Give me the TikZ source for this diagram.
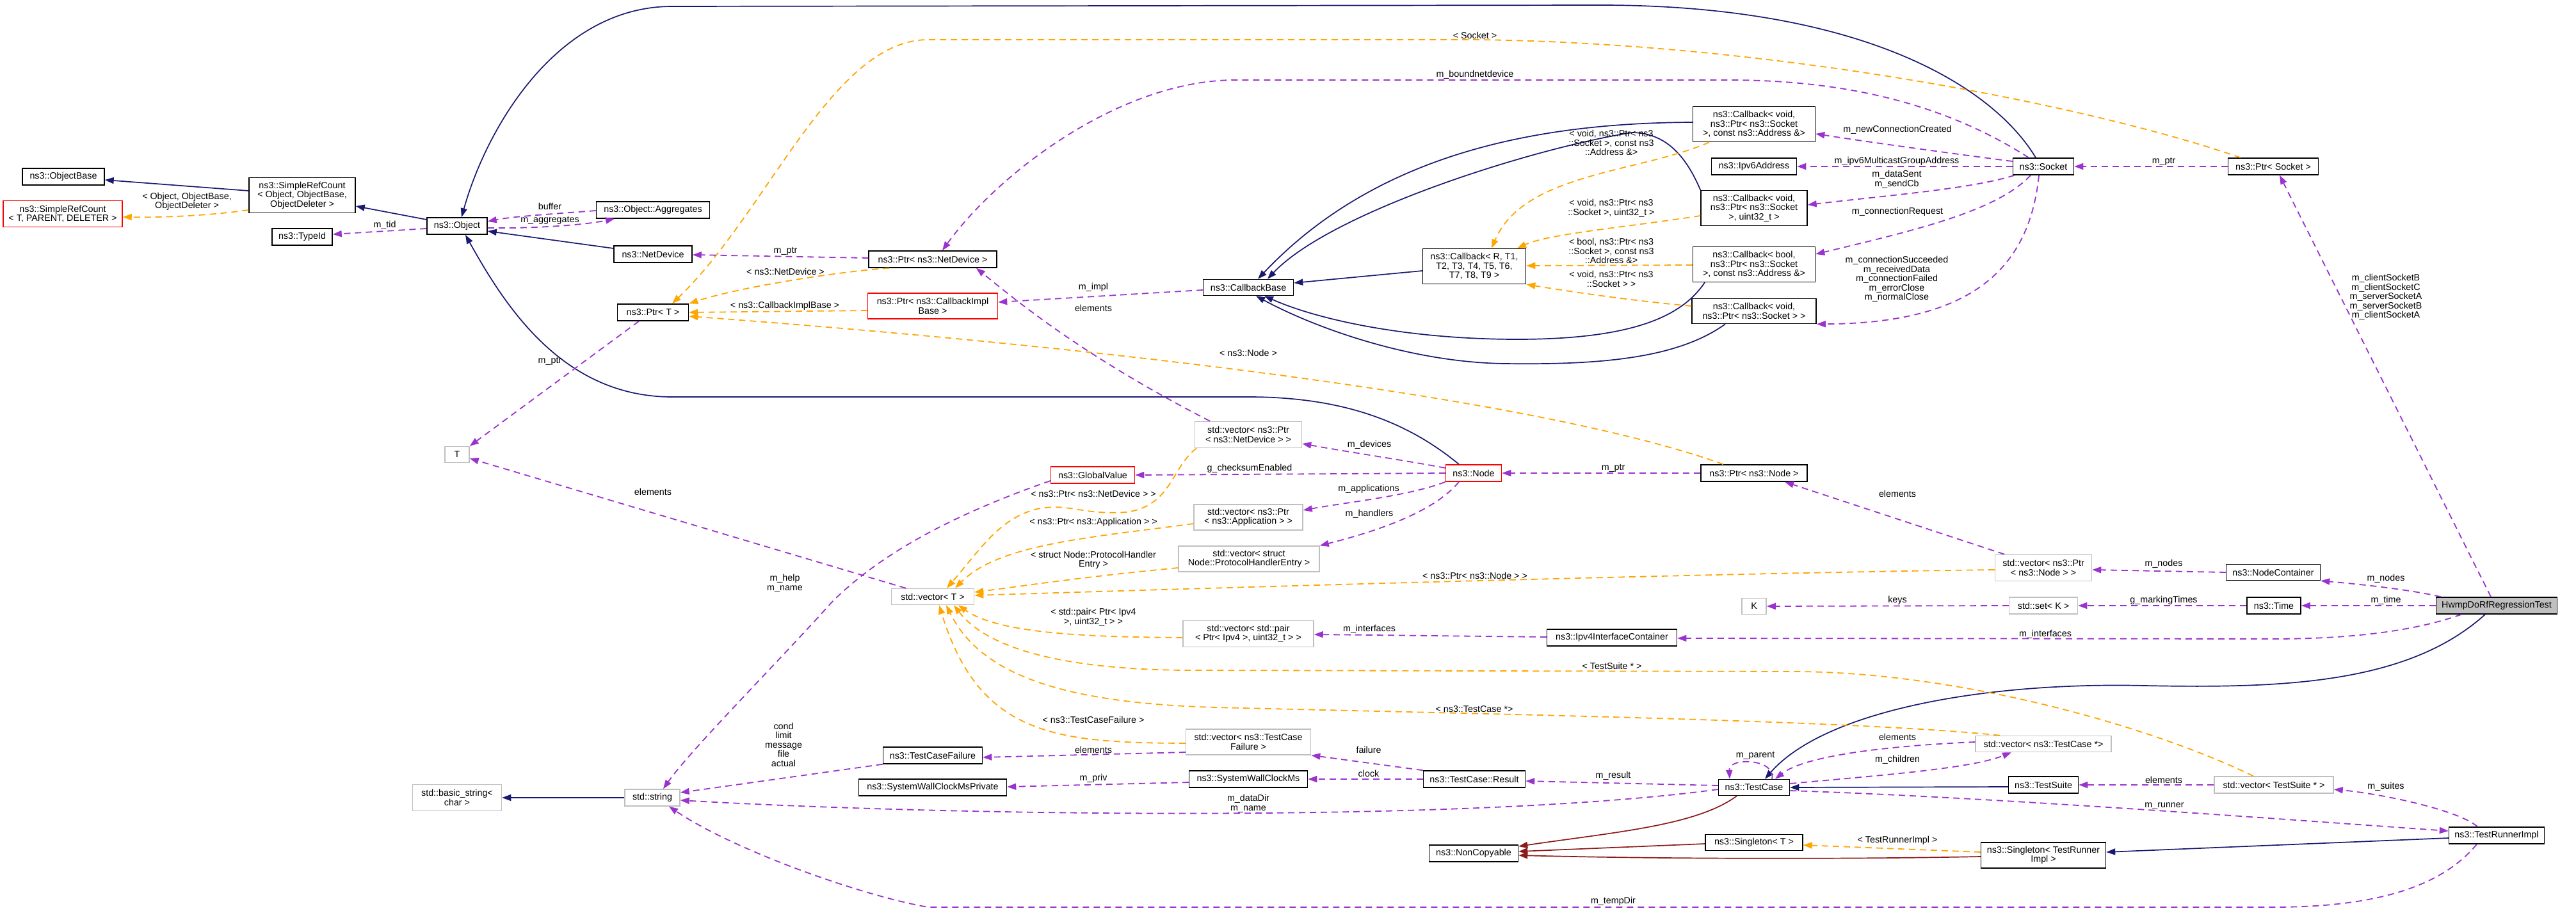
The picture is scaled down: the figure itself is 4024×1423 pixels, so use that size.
\documentclass[tikz,border=0pt]{standalone}
\usepackage{fontspec}
\setmainfont{Liberation Sans}
\usetikzlibrary{arrows.meta}
\definecolor{cuse}{HTML}{9A32CD}
\definecolor{ctpl}{HTML}{FFA500}
\definecolor{cinh}{HTML}{191970}
\definecolor{cpriv}{HTML}{8B1A1A}
\definecolor{cgray}{HTML}{BFBFBF}
\newcommand{\dfont}{\fontsize{14.3}{14.5}\selectfont}
\begin{document}
\begin{tikzpicture}[x=1pt,y=-1pt,
 box/.style={draw=black, line width=1.5pt, fill=white, inner sep=0pt, align=center, font=\dfont},
 gbox/.style={box, draw=cgray},
 rbox/.style={box, draw=red},
 sz/.style 2 args={minimum width=#1pt, minimum height=#2pt},
 lbl/.style={font=\dfont, inner sep=0pt, align=center, text=black},
 arr/.style={-{Triangle[length=14pt,width=10pt]}},
 euse/.style={arr, color=cuse, line width=1.8pt, dash pattern=on 10pt off 7pt},
 etpl/.style={arr, color=ctpl, line width=1.8pt, dash pattern=on 10pt off 7pt},
 einh/.style={arr, color=cinh, line width=1.7pt},
 epriv/.style={arr, color=cpriv, line width=1.7pt}]
\fill[white] (0,0) rectangle (4024,1423);
\useasboundingbox (0,0) rectangle (4024,1423);

% ---------- nodes ----------
\node[box, sz={128}{26}] (ob) at (99,276) {ns3::ObjectBase};
\node[rbox, sz={186}{41}] (srcT) at (98,334) {ns3::SimpleRefCount\\< T, PARENT, DELETER >};
\node[box, sz={166}{55}] (srcO) at (472,305) {ns3::SimpleRefCount\\< Object, ObjectBase,\\ObjectDeleter >};
\node[box, sz={94}{26}] (tid) at (472,370) {ns3::TypeId};
\node[box, sz={94}{26}] (obj) at (714,353) {ns3::Object};
\node[box, sz={177}{26}] (agg) at (1020,328) {ns3::Object::Aggregates};
\node[box, sz={122}{26}] (nd) at (1020,397) {ns3::NetDevice};
\node[box, sz={111}{26}] (ptrT) at (1020,488) {ns3::Ptr< T >};
\node[gbox, sz={38}{25}] (tT) at (714,710) {T};
\node[box, sz={200}{26}] (pnd) at (1457,405) {ns3::Ptr< ns3::NetDevice >};
\node[rbox, sz={203}{40}] (pcib) at (1457,478) {ns3::Ptr< ns3::CallbackImpl\\Base >};
\node[box, sz={141}{25}] (cbb) at (1950,449) {ns3::CallbackBase};
\node[box, sz={191}{55}] (cb1) at (2740,194) {ns3::Callback< void,\\ns3::Ptr< ns3::Socket\\>, const ns3::Address \&>};
\node[box, sz={133}{26}] (ipv6) at (2740,260) {ns3::Ipv6Address};
\node[box, sz={166}{55}] (cb2) at (2740,325) {ns3::Callback< void,\\ns3::Ptr< ns3::Socket\\>, uint32\_t >};
\node[box, sz={161}{55}] (cbR) at (2303,416) {ns3::Callback< R, T1,\\T2, T3, T4, T5, T6,\\T7, T8, T9 >};
\node[box, sz={191}{55}] (cb3) at (2740,413) {ns3::Callback< bool,\\ns3::Ptr< ns3::Socket\\>, const ns3::Address \&>};
\node[box, sz={194}{39}] (cb4) at (2740,486) {ns3::Callback< void,\\ns3::Ptr< ns3::Socket > >};
\node[box, sz={95}{26}] (sock) at (3192,260) {ns3::Socket};
\node[box, sz={141}{26}] (psock) at (3551,260) {ns3::Ptr< Socket >};
\node[gbox, sz={167}{41}] (vnd) at (1950,679) {std::vector< ns3::Ptr\\< ns3::NetDevice > >};
\node[rbox, sz={131}{26}] (gv) at (1707,742) {ns3::GlobalValue};
\node[gbox, sz={170}{40}] (vapp) at (1950,808) {std::vector< ns3::Ptr\\< ns3::Application > >};
\node[gbox, sz={220}{40}] (vphe) at (1951,873) {std::vector< struct\\Node::ProtocolHandlerEntry >};
\node[gbox, sz={129}{25}] (vT) at (1457,932) {std::vector< T >};
\node[rbox, sz={87}{26}] (nnode) at (2302,739) {ns3::Node};
\node[box, sz={166}{26}] (pnode) at (2740,739) {ns3::Ptr< ns3::Node >};
\node[gbox, sz={38}{25}] (K) at (2740,947) {K};
\node[gbox, sz={151}{41}] (vpn) at (3192,887) {std::vector< ns3::Ptr\\< ns3::Node > >};
\node[box, sz={147}{25}] (nc) at (3551,894) {ns3::NodeContainer};
\node[gbox, sz={107}{26}] (setK) at (3192,946) {std::set< K >};
\node[box, sz={84}{26}] (time) at (3552,946) {ns3::Time};
\node[box, fill=cgray, sz={189}{26}] (hw) at (3900,946) {HwmpDoRfRegressionTest};
\node[gbox, sz={139}{41}] (bstr) at (714,1246) {std::basic\_string<\\char >};
\node[gbox, sz={86}{26}] (str) at (1019,1246) {std::string};
\node[gbox, sz={204}{41}] (vpair) at (1950,990) {std::vector< std::pair\\< Ptr< Ipv4 >, uint32\_t > >};
\node[gbox, sz={195}{40}] (vtcf) at (1950,1159) {std::vector< ns3::TestCase\\Failure >};
\node[box, sz={155}{26}] (tcf) at (1457,1180) {ns3::TestCaseFailure};
\node[box, sz={231}{26}] (swp) at (1457,1230) {ns3::SystemWallClockMsPrivate};
\node[box, sz={185}{26}] (swc) at (1950,1217) {ns3::SystemWallClockMs};
\node[box, sz={203}{26}] (ipc) at (2518,996) {ns3::Ipv4InterfaceContainer};
\node[box, sz={159}{26}] (res) at (2303,1217) {ns3::TestCase::Result};
\node[box, sz={111}{25}] (tc) at (2740,1230) {ns3::TestCase};
\node[box, sz={139}{26}] (noncp) at (2302,1333) {ns3::NonCopyable};
\node[box, sz={152}{25}] (sgT) at (2740,1316) {ns3::Singleton< T >};
\node[gbox, sz={212}{25}] (vtc) at (3192,1162) {std::vector< ns3::TestCase *>};
\node[box, sz={109}{26}] (ts) at (3192,1226) {ns3::TestSuite};
\node[gbox, sz={186}{26}] (vts) at (3552,1226) {std::vector< TestSuite * >};
\node[box, sz={149}{26}] (tri) at (3900,1305) {ns3::TestRunnerImpl};
\node[box, sz={195}{40}] (sgTRI) at (3192,1336) {ns3::Singleton< TestRunner\\Impl >};

% ---------- inheritance ----------
\draw[einh] ([yshift=7pt]srcO.west) -- ([yshift=-5pt]ob.east);
\draw[einh] ([yshift=10pt]obj.west) -- ([yshift=-17pt]srcO.east);
\draw[einh] ([yshift=9pt]nd.west) -- ([yshift=-8pt]obj.east);
\draw[einh] ([xshift=-12pt]sock.north) .. controls (3110,130) and (2900,8) .. (2500,8) -- (1050,10) .. controls (870,10) and (760,200) .. ([xshift=7pt]obj.north);
\draw[einh] ([xshift=-23pt]nnode.north) .. controls (2200,660) and (2100,620) .. (1950,620) -- (1050,620) .. controls (880,620) and (790,480) .. ([xshift=13pt]obj.south);
\draw[einh] ([yshift=-7pt]cbR.west) -- ([yshift=7pt]cbb.east);
\draw[einh] ([yshift=3pt]cb1.west) .. controls (2400,192) and (2150,240) .. ([xshift=15pt]cbb.north);
\draw[einh] (cb2.north west) .. controls (2632,240) and (2600,208) .. (2550,207) .. controls (2400,230) and (2080,330) .. ([xshift=30pt]cbb.north);
\draw[einh] ([xshift=-77pt]cb3.south) .. controls (2630,490) and (2560,530) .. (2370,530) .. controls (2200,530) and (2060,500) .. ([xshift=25pt]cbb.south);
\draw[einh] ([xshift=-45pt]cb4.south) .. controls (2620,560) and (2500,570) .. (2351,568) .. controls (2200,566) and (2050,510) .. ([xshift=12pt]cbb.south);
\draw[einh] ([xshift=-18pt]hw.south) .. controls (3760,1070) and (3560,1075) .. (3350,1071) .. controls (3100,1065) and (2850,1110) .. ([xshift=17pt]tc.north);
\draw[einh] ([yshift=-3pt]ts.west) -- (tc.east);
\draw[einh] ([yshift=-4pt]tri.west) -- ([yshift=5pt]sgTRI.east);
\draw[einh] (str.west) -- (bstr.east);

% ---------- private inheritance ----------
\draw[epriv] ([xshift=-27pt]tc.south) .. controls (2650,1290) and (2520,1300) .. ([yshift=11pt]noncp.east);
\draw[epriv] ([yshift=-2pt]sgT.west) -- ([yshift=3pt]noncp.east);
\draw[epriv] ([yshift=-2pt]sgTRI.west) .. controls (2900,1342) and (2600,1342) .. ([yshift=-3pt]noncp.east);

% ---------- template instances ----------
\draw[etpl] ([yshift=-23pt]srcO.west) .. controls (340,335) and (270,340) .. ([yshift=-5pt]srcT.east);
\draw[etpl] ([xshift=-68pt]pnd.south) .. controls (1300,425) and (1150,450) .. (ptrT.north east);
\draw[etpl] ([yshift=-7pt]pcib.west) -- (ptrT.east);
\draw[etpl] ([xshift=-51pt]psock.north) .. controls (3250,160) and (2750,66) .. (2300,62) -- (1450,62) .. controls (1300,62) and (1200,330) .. ([xshift=30pt]ptrT.north);
\draw[etpl] ([xshift=-48pt]pnode.north) .. controls (2400,620) and (1700,540) .. ([yshift=-6pt]ptrT.east);
\draw[etpl] ([xshift=-70pt]cb1.south) .. controls (2560,270) and (2380,270) .. ([xshift=27pt]cbR.north);
\draw[etpl] ([yshift=-12pt]cb2.west) .. controls (2540,355) and (2420,365) .. ([xshift=67pt]cbR.north);
\draw[etpl] ([yshift=-1pt]cb3.west) -- ([yshift=1pt]cbR.east);
\draw[etpl] ([yshift=8pt]cb4.west) .. controls (2550,470) and (2450,455) .. (cbR.south east);
\draw[etpl] ([xshift=-81pt]vnd.south) .. controls (1830,730) and (1830,790) .. (1760,800) .. controls (1690,805) and (1670,785) .. (1620,795) .. controls (1560,810) and (1530,860) .. ([xshift=22pt]vT.north);
\draw[etpl] ([yshift=-10pt]vapp.west) .. controls (1700,840) and (1560,850) .. ([xshift=35pt]vT.north);
\draw[etpl] ([yshift=-14pt]vphe.west) .. controls (1700,900) and (1600,915) .. ([yshift=7pt]vT.east);
\draw[etpl] ([yshift=-3pt]vpn.west) .. controls (2700,895) and (2000,915) .. ([yshift=2pt]vT.east);
\draw[etpl] ([yshift=-6pt]vpair.west) .. controls (1700,995) and (1560,990) .. ([xshift=40pt]vT.south);
\draw[etpl] ([xshift=-32pt]vts.north) .. controls (3350,1130) and (3050,1049) .. (2800,1049) -- (1850,1047) .. controls (1650,1045) and (1540,1010) .. ([xshift=33pt]vT.south);
\draw[etpl] ([xshift=-68pt]vtc.north) .. controls (2900,1125) and (2300,1115) .. (1900,1105) .. controls (1650,1098) and (1530,1050) .. ([xshift=21pt]vT.south);
\draw[etpl] ([yshift=-2pt]vtcf.west) .. controls (1650,1160) and (1530,1150) .. ([xshift=10pt]vT.south);
\draw[etpl] ([yshift=5pt]sgTRI.west) -- ([yshift=-4pt]sgT.east);

% ---------- usage ----------
\draw[euse] ([yshift=-4pt]obj.west) -- ([yshift=4pt]tid.east);
\draw[euse] ([yshift=-1pt]agg.west) .. controls (880,333) and (800,338) .. ([yshift=7pt]obj.east);
\draw[euse] ([yshift=-3pt]obj.east) .. controls (830,357) and (910,352) .. ([xshift=-60pt]agg.south);
\draw[euse] ([xshift=-22pt]ptrT.south) -- (tT.north east);
\draw[euse] ([xshift=-42pt]vT.north) -- ([yshift=-6pt]tT.east);
\draw[euse] ([yshift=2pt]pnd.west) -- ([yshift=-1pt]nd.east);
\draw[euse] ([xshift=-60pt]vnd.north) .. controls (1700,560) and (1600,480) .. ([xshift=68pt]pnd.south);
\draw[euse] ([yshift=-4pt]cbb.west) -- ([yshift=6pt]pcib.east);
\draw[euse] ([xshift=-23pt]sock.north) .. controls (3050,170) and (2900,125) .. (2700,125) -- (1930,125) .. controls (1750,125) and (1560,270) .. ([xshift=15pt]pnd.north);
\draw[euse] ([yshift=8pt]sock.west) .. controls (3050,240) and (2920,222) .. ([yshift=-15pt]cb1.east);
\draw[euse] (sock.west) -- (ipv6.east);
\draw[euse] ([xshift=-45pt]sock.south) .. controls (3080,295) and (2950,305) .. ([yshift=5pt]cb2.east);
\draw[euse] ([xshift=-20pt]sock.south) .. controls (3120,330) and (2990,360) .. ([yshift=16pt]cb3.east);
\draw[euse] ([xshift=-7pt]sock.south) .. controls (3170,420) and (3080,505) .. (cb4.south east);
\draw[euse] (psock.west) -- (sock.east);
\draw[euse] ([xshift=-9pt]hw.north) -- ([xshift=10pt]psock.south);
\draw[euse] ([yshift=8pt]nnode.west) .. controls (2200,720) and (2100,705) .. ([yshift=-14pt]vnd.east);
\draw[euse] (nnode.west) -- (gv.east);
\draw[euse] (nnode.south west) .. controls (2200,775) and (2100,785) .. ([yshift=11pt]vapp.east);
\draw[euse] ([xshift=-23pt]nnode.south) .. controls (2240,800) and (2150,830) .. (vphe.north east);
\draw[euse] (pnode.west) -- (nnode.east);
\draw[euse] ([xshift=-61pt]vpn.north) -- ([xshift=48pt]pnode.south);
\draw[euse] ([yshift=-9pt]gv.west) .. controls (1500,800) and (1380,860) .. (1300,940) .. controls (1210,1040) and (1080,1170) .. ([xshift=17pt]str.north);
\draw[euse] (nc.west) -- ([yshift=-3pt]vpn.east);
\draw[euse] ([xshift=-87pt]hw.north) .. controls (3760,920) and (3680,912) .. (nc.south east);
\draw[euse] (setK.west) -- (K.east);
\draw[euse] (time.west) -- (setK.east);
\draw[euse] (hw.west) -- (time.east);
\draw[euse] ([xshift=-55pt]hw.south) .. controls (3760,990) and (3650,998) .. (3550,998) -- ([yshift=-1pt]ipc.east);
\draw[euse] ([yshift=1pt]ipc.west) -- ([yshift=-1pt]vpair.east);
\draw[euse] (tcf.south west) -- ([yshift=8pt]str.east);
\draw[euse] ([yshift=-16pt]vtcf.west) -- ([yshift=-3pt]tcf.east);
\draw[euse] ([yshift=-5pt]swc.west) -- ([yshift=1pt]swp.east);
\draw[euse] (res.north west) -- (vtcf.south east);
\draw[euse] (res.west) -- (swc.east);
\draw[euse] ([yshift=3pt]tc.west) -- ([yshift=-3pt]res.east);
\draw[euse] ([yshift=-3pt]tc.west) .. controls (2300,1285) and (1500,1275) .. ([yshift=-4pt]str.east);
\draw[euse] ([xshift=28pt]tc.north) .. controls (2775,1185) and (2700,1182) .. ([xshift=-38pt]tc.north);
\draw[euse] ([yshift=3pt]vtc.west) .. controls (2950,1165) and (2820,1180) .. ([xshift=33pt]tc.north);
\draw[euse] ([yshift=6pt]tc.east) .. controls (2950,1210) and (3080,1200) .. ([xshift=-50pt]vtc.south);
\draw[euse] ([yshift=-5pt]tc.east) .. controls (3100,1245) and (3500,1275) .. ([yshift=7pt]tri.west);
\draw[euse] (vts.west) -- (ts.east);
\draw[euse] ([xshift=-30pt]tri.north) .. controls (3840,1265) and (3720,1240) .. ([yshift=-7pt]vts.east);
\draw[euse] ([xshift=-31pt]tri.south) .. controls (3810,1390) and (3700,1417) .. (3550,1417) -- (1450,1417) .. controls (1350,1400) and (1150,1330) .. ([xshift=26pt]str.south);

% ---------- labels ----------
\node[lbl] (l1) at (292,315) {< Object, ObjectBase,\\ObjectDeleter >};
\node[lbl] (l2) at (859,322) {buffer};
\node[lbl] (l3) at (859,344) {m\_aggregates};
\node[lbl] (l4) at (601,352) {m\_tid};
\node[lbl] (l5) at (859,564) {m\_ptr};
\node[lbl] (l6) at (1020,768) {elements};
\node[lbl] (l7) at (1227,392) {m\_ptr};
\node[lbl] (l8) at (1227,424) {< ns3::NetDevice >};
\node[lbl] (l9) at (1226,478) {< ns3::CallbackImplBase >};
\node[lbl] (l10) at (2304,55) {< Socket >};
\node[lbl] (l11) at (1950,551) {< ns3::Node >};
\node[lbl] (l12) at (1708,481) {elements};
\node[lbl] (l13) at (1708,449) {m\_impl};
\node[lbl] (l14) at (2304,117) {m\_boundnetdevice};
\node[lbl] (l15) at (2517,223) {< void, ns3::Ptr< ns3\\::Socket >, const ns3\\::Address \&>};
\node[lbl] (l16) at (2517,325) {< void, ns3::Ptr< ns3\\::Socket >, uint32\_t >};
\node[lbl] (l17) at (2517,392) {< bool, ns3::Ptr< ns3\\::Socket >, const ns3\\::Address \&>};
\node[lbl] (l18) at (2517,436) {< void, ns3::Ptr< ns3\\::Socket > >};
\node[lbl] (l19) at (2964,203) {m\_newConnectionCreated};
\node[lbl] (l20) at (2963,252) {m\_ipv6MulticastGroupAddress};
\node[lbl] (l21) at (2963,280) {m\_dataSent\\m\_sendCb};
\node[lbl] (l22) at (2964,331) {m\_connectionRequest};
\node[lbl] (l23) at (2963,436) {m\_connectionSucceeded\\m\_receivedData\\m\_connectionFailed\\m\_errorClose\\m\_normalClose};
\node[lbl] (l24) at (3380,252) {m\_ptr};
\node[lbl] (l25) at (3727,464) {m\_clientSocketB\\m\_clientSocketC\\m\_serverSocketA\\m\_serverSocketB\\m\_clientSocketA};
\node[lbl] (l26) at (2139,695) {m\_devices};
\node[lbl] (l27) at (1952,732) {g\_checksumEnabled};
\node[lbl] (l28) at (2138,764) {m\_applications};
\node[lbl] (l29) at (2139,803) {m\_handlers};
\node[lbl] (l30) at (2520,731) {m\_ptr};
\node[lbl] (l31) at (2964,771) {elements};
\node[lbl] (l32) at (1708,771) {< ns3::Ptr< ns3::NetDevice > >};
\node[lbl] (l33) at (1708,816) {< ns3::Ptr< ns3::Application > >};
\node[lbl] (l34) at (1708,875) {< struct Node::ProtocolHandler\\Entry >};
\node[lbl] (l35) at (1226,911) {m\_help\\m\_name};
\node[lbl] (l36) at (2304,899) {< ns3::Ptr< ns3::Node > >};
\node[lbl] (l37) at (2964,938) {keys};
\node[lbl] (l38) at (3380,881) {m\_nodes};
\node[lbl] (l39) at (3727,904) {m\_nodes};
\node[lbl] (l40) at (3380,938) {g\_markingTimes};
\node[lbl] (l41) at (3727,938) {m\_time};
\node[lbl] (l42) at (1708,964) {< std::pair< Ptr< Ipv4\\>, uint32\_t > >};
\node[lbl] (l43) at (2139,983) {m\_interfaces};
\node[lbl] (l44) at (3195,991) {m\_interfaces};
\node[lbl] (l45) at (2518,1040) {< TestSuite * >};
\node[lbl] (l46) at (2303,1108) {< ns3::TestCase *>};
\node[lbl] (l47) at (1708,1124) {< ns3::TestCaseFailure >};
\node[lbl] (l48) at (1708,1171) {elements};
\node[lbl] (l49) at (1224,1163) {cond\\limit\\message\\file\\actual};
\node[lbl] (l50) at (1708,1216) {m\_priv};
\node[lbl] (l51) at (1950,1255) {m\_dataDir\\m\_name};
\node[lbl] (l52) at (2138,1171) {failure};
\node[lbl] (l53) at (2138,1208) {clock};
\node[lbl] (l54) at (2520,1212) {m\_result};
\node[lbl] (l55) at (2742,1180) {m\_parent};
\node[lbl] (l56) at (2964,1151) {elements};
\node[lbl] (l57) at (2964,1187) {m\_children};
\node[lbl] (l58) at (2964,1313) {< TestRunnerImpl >};
\node[lbl] (l59) at (2520,1408) {m\_tempDir};
\node[lbl] (l60) at (3380,1218) {elements};
\node[lbl] (l61) at (3727,1229) {m\_suites};
\node[lbl] (l62) at (3381,1259) {m\_runner};
\end{tikzpicture}
\end{document}
